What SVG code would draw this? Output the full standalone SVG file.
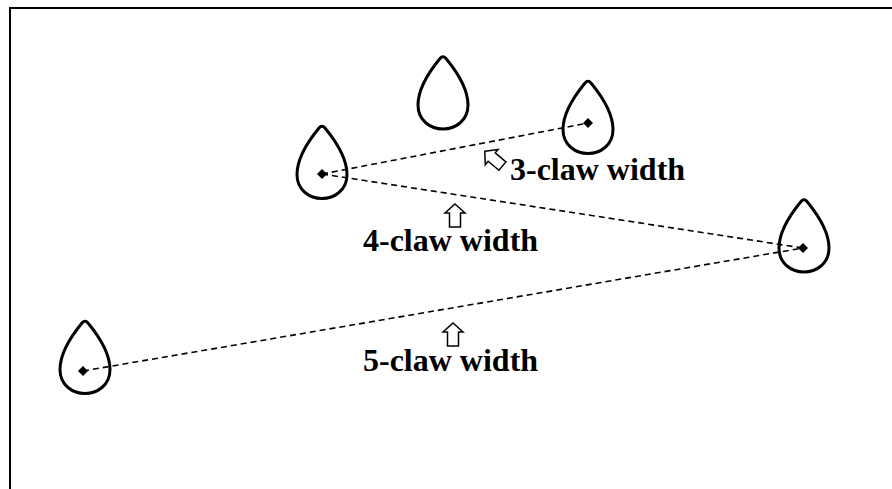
<svg xmlns="http://www.w3.org/2000/svg" width="892" height="489" viewBox="0 0 892 489">
<defs>
<style>
.drop{fill:none;stroke:#000;stroke-width:3;stroke-linejoin:round}
.dot{fill:#000}
.dash{fill:none;stroke:#000;stroke-width:1.6;stroke-dasharray:6 4}
.arr{fill:#fff;stroke:#000;stroke-width:1.5;stroke-linejoin:miter}
.lbl{font-family:"Liberation Serif","Times New Roman",serif;font-weight:bold;font-size:32px;fill:#000}
</style>
<path id="dropShape" d="M-3,-34.5 Q0,-38 3,-34.5 C10,-26 25,-6 25,12 C25,28 12,36 0,36 C-12,36 -25,28 -25,12 C-25,-6 -10,-26 -3,-34.5 Z"/>
<path id="arrowShape" d="M0,-12 L10,-3 L5.5,-3 L5.5,11 L-5.5,11 L-5.5,-3 L-10,-3 Z"/>
<path id="dia" d="M0,-5 L5,0 L0,5 L-5,0 Z"/>
</defs>
<rect x="10" y="8" width="900" height="500" fill="#fff" stroke="#000" stroke-width="2"/>
<g id="connectors">
<line class="dash" x1="322" y1="174" x2="588" y2="123"/>
<line class="dash" x1="322" y1="174" x2="803" y2="248"/>
<line class="dash" x1="83" y1="371" x2="803" y2="248"/>
</g>
<g id="drop1"><use href="#dropShape" class="drop" transform="translate(322,162.5)"/><use href="#dia" class="dot" transform="translate(322,174)"/></g>
<g id="drop2"><use href="#dropShape" class="drop" transform="translate(443,93)"/></g>
<g id="drop3"><use href="#dropShape" class="drop" transform="translate(588,117.5)"/><use href="#dia" class="dot" transform="translate(588,123)"/></g>
<g id="drop4"><use href="#dropShape" class="drop" transform="translate(804,236)"/><use href="#dia" class="dot" transform="translate(803,248)"/></g>
<g id="drop5"><use href="#dropShape" class="drop" transform="translate(85,357.5)"/><use href="#dia" class="dot" transform="translate(83,371)"/></g>
<g id="label3"><use href="#arrowShape" class="arr" transform="translate(494,159) rotate(-50)"/><text class="lbl" x="510" y="180">3-claw width</text></g>
<g id="label4"><use href="#arrowShape" class="arr" transform="translate(455,216)"/><text class="lbl" x="363" y="251">4-claw width</text></g>
<g id="label5"><use href="#arrowShape" class="arr" transform="translate(453,335)"/><text class="lbl" x="363" y="371">5-claw width</text></g>
</svg>
